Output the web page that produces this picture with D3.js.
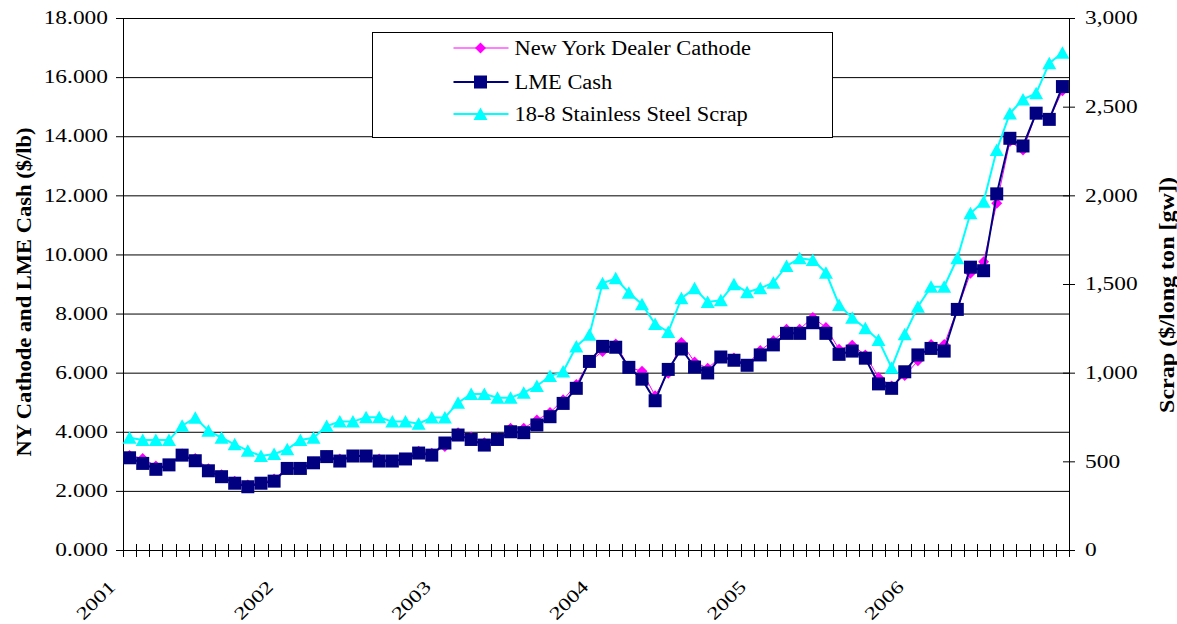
<!DOCTYPE html>
<html>
<head>
<meta charset="utf-8">
<script src="https://d3js.org/d3.v7.min.js"></script>
<style>
  body { margin: 0; background: #fff; }
  svg { display: block; }
  svg text { font-family: "Liberation Serif", Tinos, "DejaVu Serif", "Times New Roman", serif; }
</style>
</head>
<body>
<svg id="chart" width="1177" height="624"></svg>
<script>
// data, monthly Jan 2001 - Dec 2006
const yearLabels = ["2001", "2002", "2003", "2004", "2005", "2006"];
const monthNames = ["Jan", "Feb", "Mar", "Apr", "May", "Jun", "Jul", "Aug", "Sep", "Oct", "Nov", "Dec"];

// New York Dealer Cathode ($/lb)
const nyCathode = [
  3.20, 3.10, 2.84, 2.90, 3.25, 3.10, 2.75, 2.55, 2.33, 2.20, 2.28, 2.40,
  2.78, 2.78, 2.97, 3.18, 3.08, 3.20, 3.20, 3.08, 3.03, 3.06, 3.34, 3.27,
  3.50, 3.97, 3.82, 3.63, 3.80, 4.12, 4.12, 4.40, 4.65, 5.08, 5.60, 6.37,
  6.72, 6.97, 6.18, 6.05, 5.22, 5.98, 7.02, 6.36, 6.15, 6.53, 6.50, 6.26,
  6.75, 7.08, 7.47, 7.47, 7.87, 7.53, 6.79, 6.93, 6.60, 5.84, 5.55, 5.90,
  6.40, 6.95, 6.95, 8.14, 9.36, 9.75, 11.73, 13.82, 13.53, 14.78, 14.57, 15.54
];
// LME Cash ($/lb)
const lmeCash = [
  3.12, 2.93, 2.73, 2.88, 3.21, 3.02, 2.68, 2.48, 2.26, 2.14, 2.26, 2.33,
  2.76, 2.76, 2.95, 3.16, 3.01, 3.18, 3.18, 3.01, 3.01, 3.08, 3.28, 3.21,
  3.62, 3.89, 3.74, 3.55, 3.74, 4.00, 3.97, 4.23, 4.51, 4.96, 5.47, 6.38,
  6.89, 6.86, 6.18, 5.78, 5.05, 6.11, 6.80, 6.19, 5.99, 6.53, 6.42, 6.25,
  6.60, 6.94, 7.33, 7.33, 7.69, 7.33, 6.62, 6.73, 6.49, 5.62, 5.47, 6.03,
  6.60, 6.82, 6.73, 8.14, 9.57, 9.45, 12.05, 13.93, 13.67, 14.78, 14.57, 15.68
];
// 18-8 Stainless Steel Scrap ($/long ton [gw]), right axis
const scrap = [
  633, 620, 620, 620, 701, 746, 673, 633, 596, 560, 530, 541,
  568, 620, 633, 699, 724, 724, 748, 748, 724, 724, 712, 747,
  747, 831, 880, 880, 859, 859, 887, 925, 981, 1006, 1148, 1214,
  1504, 1532, 1451, 1386, 1274, 1230, 1419, 1476, 1399, 1408, 1499, 1454,
  1476, 1507, 1602, 1645, 1635, 1564, 1382, 1310, 1250, 1184, 1028, 1216,
  1372, 1485, 1485, 1645, 1899, 1964, 2256, 2462, 2541, 2575, 2745, 2804
];
const leftTicks = [0, 2, 4, 6, 8, 10, 12, 14, 16, 18];
const rightTicks = [0, 500, 1000, 1500, 2000, 2500, 3000];

// month categories like Jan-01
const categories = [];
yearLabels.forEach(y => monthNames.forEach(m => categories.push(m + "-" + y.slice(2))));

const svg = d3.select("#chart");
const plot = { left: 123, right: 1069, top: 18, bottom: 550 };

const x = d3.scaleBand().domain(categories).range([plot.left, plot.right]);
const yLeft = d3.scaleLinear().domain([0, 18]).range([plot.bottom, plot.top]);
const yRight = d3.scaleLinear().domain([0, 3000]).range([plot.bottom, plot.top]);
const cx = d => x(d) + x.bandwidth() / 2;

// stretch text horizontally like the original rendering
function stretch(sel, factor) {
  sel.each(function () {
    const len = this.getComputedTextLength();
    d3.select(this).attr("textLength", len * factor).attr("lengthAdjust", "spacingAndGlyphs");
  });
}

// gridlines
svg.append("g")
  .attr("transform", `translate(${plot.left},0)`)
  .call(d3.axisLeft(yLeft).tickValues(leftTicks.slice(1)).tickSize(-(plot.right - plot.left)).tickFormat(""))
  .call(g => g.select(".domain").remove())
  .selectAll("line").attr("stroke", "#000");

// left axis
const leftAxis = svg.append("g")
  .attr("transform", `translate(${plot.left},0)`)
  .call(d3.axisLeft(yLeft).tickValues(leftTicks).tickFormat(d3.format(".3f")).tickSize(7).tickSizeOuter(0).tickPadding(8))
  .attr("font-family", null);
leftAxis.select(".domain").attr("stroke", "#000");
leftAxis.selectAll("text")
  .attr("font-size", 18).attr("fill", "#000")
  .call(stretch, 1.3);

// right axis
const rightAxis = svg.append("g")
  .attr("transform", `translate(${plot.right},0)`)
  .call(d3.axisRight(yRight).tickValues(rightTicks).tickFormat(d3.format(",")).tickSize(6).tickSizeOuter(0).tickPadding(10))
  .attr("font-family", null);
rightAxis.selectAll(".tick line").attr("x1", -6).attr("x2", 6);
rightAxis.selectAll("text")
  .attr("font-size", 18).attr("fill", "#000")
  .call(stretch, 1.3);

// bottom axis line with crossing ticks at category boundaries
svg.append("line")
  .attr("x1", plot.left).attr("x2", plot.right)
  .attr("y1", plot.bottom + 0.5).attr("y2", plot.bottom + 0.5)
  .attr("stroke", "#000");
const boundaries = categories.map(c => x(c)).concat([x.range()[1]]);
svg.append("g").selectAll("line")
  .data(boundaries)
  .join("line")
  .attr("x1", d => Math.round(d) + 0.5).attr("x2", d => Math.round(d) + 0.5)
  .attr("y1", plot.bottom - 6).attr("y2", plot.bottom + 7)
  .attr("stroke", "#000");

svg.append("g").selectAll("text")
  .data(yearLabels)
  .join("text")
  .attr("transform", d => `translate(${cx("Jan-" + d.slice(2)) - 13},588) rotate(-45)`)
  .attr("text-anchor", "end")
  .attr("font-size", 18)
  .text(d => d)
  .call(stretch, 1.3);

// axis titles
svg.append("text")
  .attr("transform", "translate(31,292) rotate(-90)")
  .attr("text-anchor", "middle")
  .attr("font-weight", "bold")
  .attr("font-size", 20)
  .attr("textLength", 329).attr("lengthAdjust", "spacingAndGlyphs")
  .text("NY Cathode and LME Cash ($/lb)");

svg.append("text")
  .attr("transform", "translate(1174,295) rotate(-90)")
  .attr("text-anchor", "middle")
  .attr("font-weight", "bold")
  .attr("font-size", 20)
  .attr("textLength", 236).attr("lengthAdjust", "spacingAndGlyphs")
  .text("Scrap ($/long ton [gw])");

// marker shapes
const diamond = "M0,-5.5L5.5,0L0,5.5L-5.5,0Z";
const square = "M-6.5,-6.5H6.5V6.5H-6.5Z";
const triangle = "M0,-6.5L7,6L-7,6Z";

const series = [
  { name: "New York Dealer Cathode", values: nyCathode, y: yLeft, color: "#ff00ff", width: 1, marker: diamond },
  { name: "LME Cash", values: lmeCash, y: yLeft, color: "#000080", width: 2, marker: square },
  { name: "18-8 Stainless Steel Scrap", values: scrap, y: yRight, color: "#00ffff", width: 2, marker: triangle }
];

series.forEach(s => {
  const pts = categories.map((c, i) => ({ c: c, v: s.values[i] }));
  const line = d3.line().x(d => cx(d.c)).y(d => s.y(d.v));
  const g = svg.append("g");
  g.append("path")
    .attr("d", line(pts))
    .attr("fill", "none")
    .attr("stroke", s.color)
    .attr("stroke-width", s.width);
  g.selectAll("path.marker")
    .data(pts)
    .join("path")
    .attr("class", "marker")
    .attr("d", s.marker)
    .attr("transform", d => `translate(${cx(d.c)},${s.y(d.v)})`)
    .attr("fill", s.color);
});

// right axis line on top of plot
svg.append("line")
  .attr("x1", plot.right + 0.5).attr("x2", plot.right + 0.5)
  .attr("y1", plot.top).attr("y2", plot.bottom + 7)
  .attr("stroke", "#000");

// legend
const legend = svg.append("g").attr("transform", "translate(372.5,32.5)");
legend.append("rect")
  .attr("width", 460).attr("height", 105)
  .attr("fill", "#fff").attr("stroke", "#000");
const rows = legend.selectAll("g.row")
  .data(series)
  .join("g")
  .attr("class", "row")
  .attr("transform", (d, i) => `translate(0,${[15.5, 49.5, 81.5][i]})`);
rows.append("line")
  .attr("x1", 81).attr("x2", 136)
  .attr("stroke", d => d.color)
  .attr("stroke-width", d => d.width);
rows.append("path")
  .attr("d", d => d.marker)
  .attr("transform", "translate(108,0)")
  .attr("fill", d => d.color);
rows.append("text")
  .attr("x", 142).attr("y", 7)
  .attr("font-size", 20)
  .text(d => d.name)
  .call(stretch, 1.12);
</script>
</body>
</html>
